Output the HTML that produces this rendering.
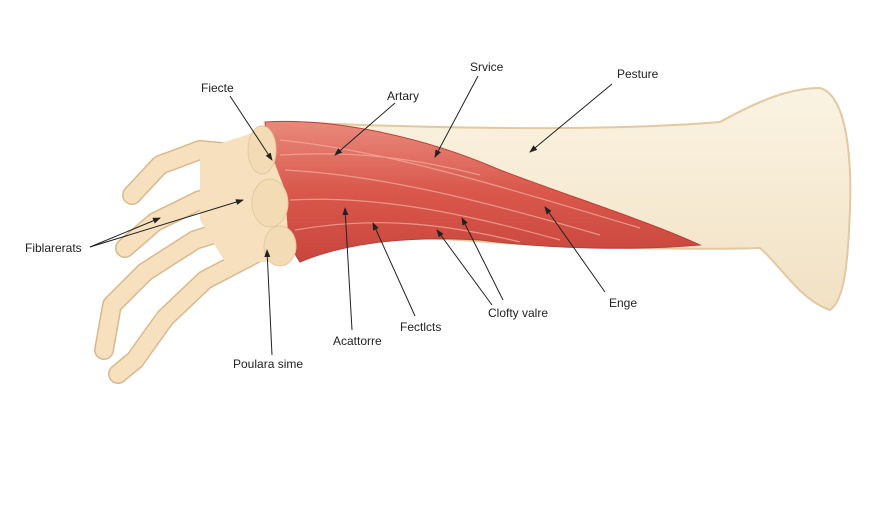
<!DOCTYPE html>
<html><head><meta charset="utf-8"><style>
html,body{margin:0;padding:0;background:#fff;}
svg{display:block}
text{font-family:"Liberation Sans",sans-serif;font-size:12px;fill:#222}
</style></head><body>
<svg width="896" height="512" viewBox="0 0 896 512" xmlns="http://www.w3.org/2000/svg">
<defs>
<linearGradient id="bone" x1="0" y1="0" x2="0" y2="1">
<stop offset="0" stop-color="#fbf3e2"/><stop offset="1" stop-color="#f1e1c4"/></linearGradient>
<linearGradient id="mus" x1="0" y1="0" x2="0" y2="1">
<stop offset="0" stop-color="#e98a7c"/><stop offset="0.5" stop-color="#d9574b"/><stop offset="1" stop-color="#c8463c"/></linearGradient>
<marker id="a" markerWidth="8" markerHeight="8" refX="7" refY="4" orient="auto"><path d="M0,1 L8,4 L0,7 z" fill="#222"/></marker>
</defs>
<rect width="896" height="512" fill="#fff"/>
<path d="M290,122 C420,128 600,132 720,122 C760,100 790,88 820,88 C845,95 852,150 850,210 C848,260 845,300 830,310 C800,300 780,265 760,248 C700,250 560,248 460,240 C380,235 330,240 300,250 Z" fill="url(#bone)" stroke="#e2c9a2" stroke-width="2"/>
<path d="M265,122 C330,118 420,135 500,170 C580,200 650,222 700,245 C640,250 560,250 480,240 C400,235 340,245 300,262 C285,240 272,200 265,122 Z" fill="url(#mus)" stroke="#b94038" stroke-width="1"/>
<g stroke="#f2a89c" stroke-width="1.2" fill="none" opacity="0.8">
<path d="M280,140 C380,150 480,180 640,228"/><path d="M285,170 C380,175 480,200 600,235"/>
<path d="M290,200 C380,195 470,215 560,240"/><path d="M295,230 C380,215 450,225 520,242"/>
<path d="M280,155 C360,150 420,160 480,175"/>
</g>
<g fill="none" stroke-linecap="round" stroke-linejoin="round">
<g stroke="#d9b98c" stroke-width="20">
<path d="M255,155 L200,150 L160,165 L132,195"/>
<path d="M255,195 L200,200 L155,222 L125,248"/>
<path d="M265,218 L195,240 L145,272 L112,305 L104,350"/>
<path d="M272,245 L205,280 L165,318 L135,360 L118,374"/>
</g>
<g stroke="#f6e0bd" stroke-width="17">
<path d="M255,155 L200,150 L160,165 L132,195"/>
<path d="M255,195 L200,200 L155,222 L125,248"/>
<path d="M265,218 L195,240 L145,272 L112,305 L104,350"/>
<path d="M272,245 L205,280 L165,318 L135,360 L118,374"/>
</g>
</g>
<path d="M200,150 L262,130 L285,190 L290,262 L225,262 L200,220 Z" fill="#f6e0bd"/>
<g fill="#f3dcb5" stroke="#e2c9a2" stroke-width="1">
<ellipse cx="262" cy="150" rx="14" ry="24"/>
<ellipse cx="270" cy="203" rx="18" ry="24"/>
<ellipse cx="280" cy="246" rx="16" ry="20"/>
</g>
<g stroke="#222" stroke-width="1" fill="none" marker-end="url(#a)">
<line x1="230" y1="96" x2="272" y2="160"/>
<line x1="395" y1="103" x2="335" y2="155"/>
<line x1="478" y1="76" x2="435" y2="157"/>
<line x1="612" y1="84" x2="530" y2="152"/>
<line x1="90" y1="247" x2="160" y2="218"/>
<line x1="90" y1="247" x2="243" y2="200"/>
<line x1="272" y1="355" x2="267" y2="250"/>
<line x1="352" y1="330" x2="345" y2="208"/>
<line x1="415" y1="316" x2="373" y2="223"/>
<line x1="492" y1="305" x2="437" y2="230"/>
<line x1="503" y1="300" x2="462" y2="218"/>
<line x1="605" y1="292" x2="545" y2="207"/>
</g>
<text x="201" y="92">Fiecte</text>
<text x="387" y="100">Artary</text>
<text x="470" y="71">Srvice</text>
<text x="617" y="78">Pesture</text>
<text x="25" y="252">Fiblarerats</text>
<text x="233" y="368">Poulara sime</text>
<text x="333" y="345">Acattorre</text>
<text x="400" y="331">Fectlcts</text>
<text x="488" y="317">Clofty valre</text>
<text x="609" y="307">Enge</text>
</svg>
</body></html>
